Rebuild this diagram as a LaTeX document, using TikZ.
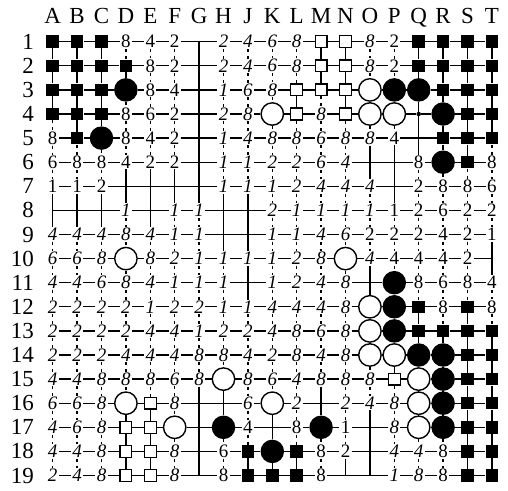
\documentclass[tikz,border=0pt]{standalone}
\usepackage{fontspec}
\setmainfont{Liberation Serif}
\tikzset{
  kind/.code={\xdef\ptcat{#1}},
  gline/.style={line width=1.3pt},
  gdash/.style={line width=1.3pt, dash pattern=on 3pt off 4pt},
  lbl/.style={inner sep=0pt, font=\fontsize{23}{23}\selectfont},
  numtxt/.style={inner xsep=1.2pt, inner ysep=0.8pt, font=\fontsize{19}{19}\selectfont, kind=n},
  % point kinds: o empty, h star point, b/w stones, B/W squares
  pt/o/.style={coordinate, node contents={}, kind=e},
  pt/h/.style={circle, fill, inner sep=0pt, minimum size=4.5pt, node contents={}, kind=e},
  pt/b/.style={circle, fill, inner sep=0pt, minimum size=23.5pt, node contents={}, kind=s},
  pt/w/.style={circle, draw, fill=white, line width=1.4pt, inner sep=0pt, minimum size=22.4pt, node contents={}, kind=s},
  pt/B/.style={rectangle, fill, inner sep=0pt, minimum size=12.5pt, node contents={}, kind=s},
  pt/W/.style={rectangle, draw, fill=white, line width=1.3pt, inner sep=0pt, minimum size=11.8pt, node contents={}, kind=s},
  % numbers: r upright, i italic
  pt/r1/.style={numtxt, node contents=1},
  pt/r2/.style={numtxt, node contents=2},
  pt/r4/.style={numtxt, node contents=4},
  pt/r6/.style={numtxt, node contents=6},
  pt/r8/.style={numtxt, node contents=8},
  pt/i1/.style={numtxt, node contents=\textit{1}},
  pt/i2/.style={numtxt, node contents=\textit{2}},
  pt/i4/.style={numtxt, node contents=\textit{4}},
  pt/i6/.style={numtxt, node contents=\textit{6}},
  pt/i8/.style={numtxt, node contents=\textit{8}},
}
\begin{document}
\begin{tikzpicture}[x=1pt,y=-1pt]
  \useasboundingbox (0,0) rectangle (508,490);
  % column letters and row numbers
  \foreach \l [count=\c] in {A,B,C,D,E,F,G,H,J,K,L,M,N,O,P,Q,R,S,T}
    \node[lbl, anchor=base] (col-\c) at ({28.3+24.4*\c},23.3) {\l};
  \foreach \r in {1,...,19}
    \node[lbl, anchor=east] (row-\r) at (34,{17.6+24.1*\r}) {\r};
  % board points, row by row
  \foreach \row [count=\r] in {%
    {B,B,B,r8,r4,r2,o,i2,i4,i6,i8,W,W,i8,r2,B,B,B,B},%
    {B,B,B,B,r8,r2,o,i2,i4,i6,i8,W,W,i8,r2,B,B,B,B},%
    {B,B,B,b,r8,r4,o,i1,i6,i8,W,W,W,w,b,b,B,B,B},%
    {B,B,B,r8,r6,r2,o,i2,i8,w,W,i8,W,w,w,h,b,B,B},%
    {r8,B,b,r8,r4,r2,o,i1,i4,i8,i8,i6,i8,i8,r4,o,B,B,B},%
    {r6,r8,r8,r4,r2,r2,o,i1,i1,i2,i2,i6,i4,o,o,r8,b,B,r8},%
    {r1,r1,r2,o,o,o,o,i1,i1,i1,i2,i4,i4,i4,o,r2,r8,r8,r6},%
    {o,o,o,i1,o,i1,i1,o,o,i2,i1,i1,i1,i1,r1,r2,r6,r2,r2},%
    {i4,i4,i4,i8,i4,i1,i1,o,o,i1,i1,i4,i6,r2,r2,r2,r4,r2,r1},%
    {i6,i6,i8,w,i8,i2,i1,i1,i1,i1,i2,i8,w,i4,r4,r4,r4,r2,o},%
    {i4,i4,i6,i8,i4,i1,i1,i1,o,i1,i2,i4,i8,o,b,r8,r6,r8,r4},%
    {i2,i2,i2,i2,i1,i2,i2,i1,i1,i4,i4,i4,i8,w,b,B,r8,B,r8},%
    {i2,i2,i2,i2,i4,i4,i1,i2,i2,i4,i8,i6,i8,w,b,B,B,B,B},%
    {i2,i2,i2,i4,i4,i4,i8,i8,i4,i2,i8,i4,i8,w,w,b,b,B,B},%
    {i4,i4,i8,i8,i8,i6,i8,w,i8,i6,i4,i8,i8,i8,W,w,b,B,B},%
    {i6,i6,i8,w,W,i8,o,o,i6,w,i2,o,i2,i4,i8,w,b,B,B},%
    {i4,i6,i8,W,W,w,o,b,r4,o,r8,b,r1,o,i8,w,b,B,B},%
    {i4,i4,i8,W,W,i8,o,r6,B,b,B,r8,r2,o,i4,i4,r8,B,B},%
    {i2,i4,i8,W,W,i8,o,r8,B,B,B,r8,o,o,i1,i8,r8,B,B}%
  }{
    \foreach \t [count=\c] in \row {
      \node (p-\r-\c) at ({28.3+24.4*\c},{17.6+24.1*\r}) [pt/\t];
      \expandafter\xdef\csname k-\r-\c\endcsname{\ptcat}
    }
  }
  % horizontal lines
  \foreach \r in {1,...,19} {
    \foreach \c [count=\cnext from 2] in {1,...,18} {
      \draw[gline] (p-\r-\c) -- (p-\r-\cnext);
    }
  }
  % vertical lines, dashed next to numbers
  \foreach \r [count=\rnext from 2] in {1,...,18} {
    \foreach \c in {1,...,19} {
      \edef\ka{\csname k-\r-\c\endcsname}\edef\kb{\csname k-\rnext-\c\endcsname}
      \def\vs{gline}
      \if n\ka \def\vs{gdash}\fi
      \if n\kb \def\vs{gdash}\fi
      \if e\ka \def\vs{gline}\fi
      \if e\kb \def\vs{gline}\fi
      \draw[\vs] (p-\r-\c) -- (p-\rnext-\c);
    }
  }
\end{tikzpicture}
\end{document}
